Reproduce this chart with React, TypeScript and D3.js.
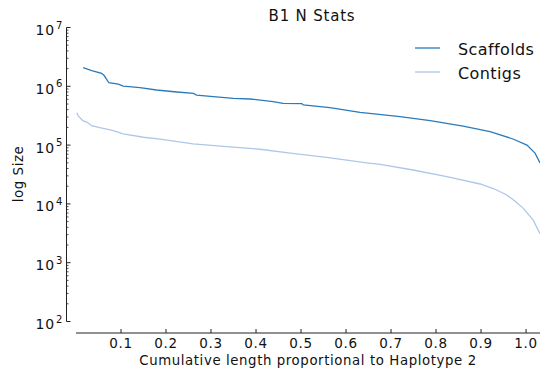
import React from "react";
import * as d3 from "d3";

// values
const scaffoldX = [0.016, 0.035, 0.057, 0.063, 0.073, 0.094, 0.105, 0.124, 0.142, 0.179, 0.224, 0.261, 0.268, 0.305, 0.35, 0.387, 0.438, 0.46, 0.502, 0.505, 0.564, 0.631, 0.72, 0.787, 0.86, 0.92, 0.971, 1.002, 1.02, 1.031];
const scaffoldY = [2.07e6, 1.84e6, 1.66e6, 1.51e6, 1.15e6, 1.09e6, 1.01e6, 9.8e5, 9.5e5, 8.65e5, 8.0e5, 7.6e5, 7.1e5, 6.65e5, 6.25e5, 6.08e5, 5.47e5, 5.14e5, 5.06e5, 4.81e5, 4.33e5, 3.61e5, 3.04e5, 2.6e5, 2.11e5, 1.69e5, 1.27e5, 1.0e5, 7.3e4, 4.97e4];

const contigX = [0.002, 0.005, 0.015, 0.024, 0.035, 0.053, 0.076, 0.09, 0.105, 0.15, 0.187, 0.26, 0.335, 0.409, 0.476, 0.557, 0.646, 0.676, 0.749, 0.824, 0.898, 0.93, 0.957, 0.975, 0.994, 1.016, 1.031];
const contigY = [3.56e5, 3.13e5, 2.6e5, 2.47e5, 2.14e5, 1.98e5, 1.81e5, 1.69e5, 1.55e5, 1.36e5, 1.26e5, 1.05e5, 9.4e4, 8.5e4, 7.3e4, 6.2e4, 5.0e4, 4.7e4, 3.77e4, 2.9e4, 2.18e4, 1.79e4, 1.42e4, 1.12e4, 8.4e3, 5.3e3, 3.1e3];

const xTicks = [0.1, 0.2, 0.3, 0.4, 0.5, 0.6, 0.7, 0.8, 0.9, 1.0];
const yDecades = [2, 3, 4, 5, 6, 7];

const seriesNames = ["Scaffolds", "Contigs"];
const seriesColors = ["#2b7bba", "#aec7e8"];

const W = 540;
const H = 370;
const FONT = "DejaVu Sans, sans-serif";

export default function App() {
  const x = d3.scaleLinear().domain([0, 1.031]).range([76, 540]);
  const y = d3.scaleLog().domain([1e2, 1e7]).range([321.5, 27.5]);

  const line = d3
    .line<[number, number]>()
    .x((d) => x(d[0]))
    .y((d) => y(d[1]));

  const scaffolds = scaffoldX.map((v, i) => [v, scaffoldY[i]] as [number, number]);
  const contigs = contigX.map((v, i) => [v, contigY[i]] as [number, number]);

  const yAxisX = 66.5;
  const xAxisY = 333;

  const minor: number[] = [];
  for (let e = 2; e < 7; e++) {
    for (let m = 2; m < 10; m++) minor.push(m * Math.pow(10, e));
  }

  return (
    <svg width={W} height={H} style={{ position: "absolute", left: 0, top: 0 }} fontFamily={FONT}>
      <rect width={W} height={H} fill="#fff" />
      <text x={312} y={21} textAnchor="middle" fontSize={15} letterSpacing={0.8} fill="#111">B1 N Stats</text>

      {/* y axis */}
      <line x1={yAxisX} x2={yAxisX} y1={y(1e7)} y2={y(1e2)} stroke="#222" strokeWidth={1} />
      {yDecades.map((e) => (
        <g key={e}>
          <line x1={yAxisX} x2={yAxisX + 4} y1={y(Math.pow(10, e))} y2={y(Math.pow(10, e))} stroke="#222" />
          <text x={55} y={y(Math.pow(10, e)) + 7.5} textAnchor="end" fontSize={14} letterSpacing={0.8} fill="#111">10</text>
          <text x={56} y={y(Math.pow(10, e)) + 1} fontSize={10} fill="#111">{e}</text>
        </g>
      ))}
      {minor.map((v) => (
        <line key={v} x1={yAxisX} x2={yAxisX + 2} y1={y(v)} y2={y(v)} stroke="#222" strokeWidth={0.8} />
      ))}
      <text transform={`translate(23,174) rotate(-90)`} textAnchor="middle" fontSize={13.5} letterSpacing={0.5} fill="#111">log Size</text>

      {/* x axis */}
      <line x1={x(0)} x2={W} y1={xAxisY} y2={xAxisY} stroke="#222" strokeWidth={1} />
      {xTicks.map((t) => (
        <g key={t}>
          <line x1={x(t)} x2={x(t)} y1={xAxisY} y2={xAxisY - 4} stroke="#222" />
          <text x={x(t)} y={347.5} textAnchor="middle" fontSize={13.5} letterSpacing={0.7} fill="#111">{t.toFixed(1)}</text>
        </g>
      ))}
      <text x={308} y={365} textAnchor="middle" fontSize={13.3} letterSpacing={0.6} fill="#111">Cumulative length proportional to Haplotype 2</text>

      {/* series */}
      <path d={line(contigs) ?? ""} fill="none" stroke={seriesColors[1]} strokeWidth={1.3} />
      <path d={line(scaffolds) ?? ""} fill="none" stroke={seriesColors[0]} strokeWidth={1.3} />

      {/* legend */}
      {seriesNames.map((n, i) => (
        <g key={n} transform={`translate(0,${48 + i * 24})`}>
          <line x1={415} x2={440} y1={0} y2={0} stroke={seriesColors[i]} strokeWidth={1.3} />
          <text x={458} y={6.5} fontSize={16} letterSpacing={0.4} fill="#111">{n}</text>
        </g>
      ))}
    </svg>
  );
}
